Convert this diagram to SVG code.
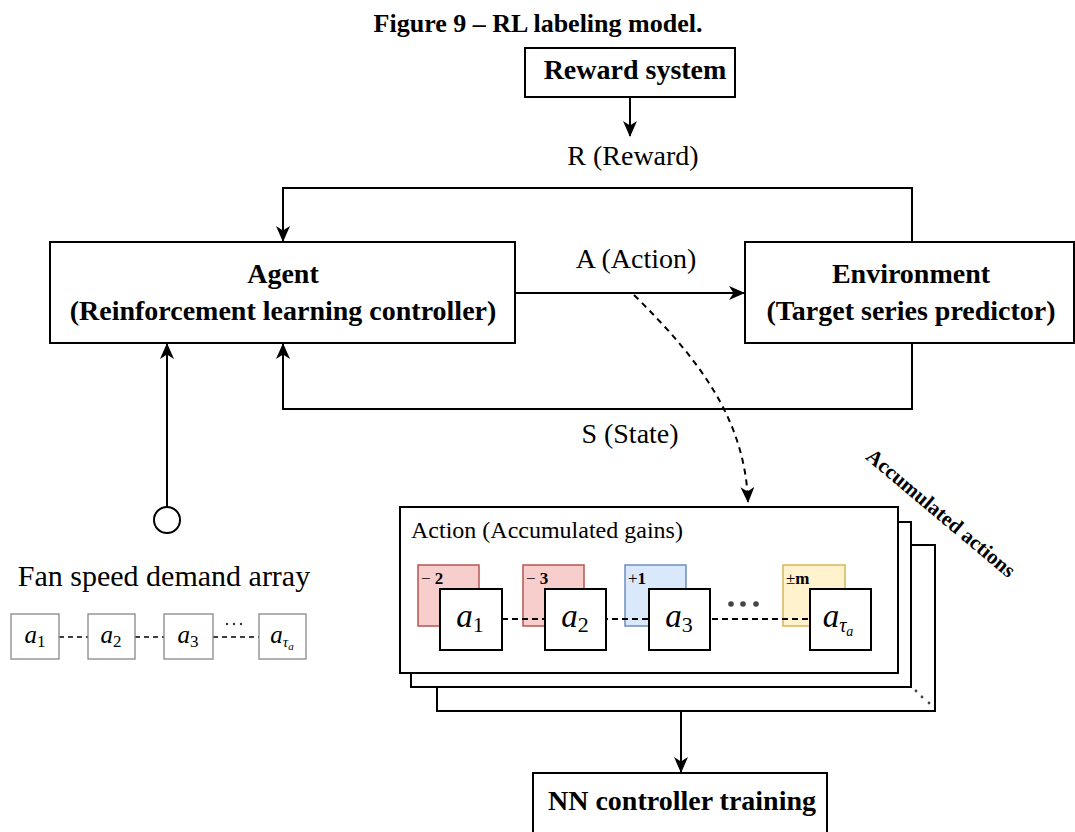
<svg xmlns="http://www.w3.org/2000/svg" width="1075" height="832" viewBox="0 0 1075 832" font-family="'Liberation Serif', 'Times New Roman', serif">
<defs>
<style>
text, tspan{font-family:'Liberation Serif','Times New Roman',serif}
text{fill:#000}
.b{font-weight:bold}
.node{fill:#fff;stroke:#000;stroke-width:2}
.con{fill:none;stroke:#000;stroke-width:2}
.lbl{font-size:28px}
.bl{font-size:28px;font-weight:bold}
.m{font-style:italic}
.sq{fill:#fff;stroke:#000;stroke-width:2}
.ssq{fill:#fff;stroke:#888;stroke-width:1.3}
.red{fill:#f8cecc;stroke:#b85450;stroke-width:1.5}
.blue{fill:#dae8fc;stroke:#6c8ebf;stroke-width:1.5}
.yel{fill:#fff2cc;stroke:#d6b656;stroke-width:1.5}
.dash{fill:none;stroke:#000;stroke-width:1.8;stroke-dasharray:6 4}
</style>
<marker id="arr" viewBox="0 0 16 14" refX="15" refY="7" markerWidth="16" markerHeight="14" markerUnits="userSpaceOnUse" orient="auto">
<path d="M0,0 L16,7 L0,14 L4.5,7 z" fill="#000"/>
</marker>
</defs>
<rect width="1075" height="832" fill="#fff"/>
<text x="538" y="32" text-anchor="middle" class="b" font-size="26">Figure 9 – RL labeling model.</text>

<g id="connectors">
<line class="con" x1="630" y1="97" x2="630" y2="136" marker-end="url(#arr)"/>
<polyline class="con" points="912,242 912,188 283,188 283,241" marker-end="url(#arr)"/>
<line class="con" x1="515" y1="293" x2="744" y2="293" marker-end="url(#arr)"/>
<polyline class="con" points="912,343 912,409 283,409 283,344" marker-end="url(#arr)"/>
<line class="con" x1="167" y1="507" x2="167" y2="344" marker-end="url(#arr)"/>
<path class="con" d="M634 295 C700 360 745 420 748 502" stroke-dasharray="6 5" marker-end="url(#arr)"/>
<line class="con" x1="681" y1="711" x2="681" y2="772" marker-end="url(#arr)"/>
<text x="633" y="165" text-anchor="middle" class="lbl">R (Reward)</text>
<text x="636" y="268" text-anchor="middle" class="lbl">A (Action)</text>
<text x="630" y="443" text-anchor="middle" class="lbl">S (State)</text>
</g>

<g id="reward">
<rect class="node" x="525" y="48" width="210" height="49"/>
<text x="635" y="79" text-anchor="middle" class="bl">Reward system</text>
</g>

<g id="agent">
<rect class="node" x="50" y="242" width="465" height="101"/>
<text x="283" y="283" text-anchor="middle" class="bl">Agent</text>
<text x="283" y="320" text-anchor="middle" class="bl">(Reinforcement learning controller)</text>
</g>

<g id="environment">
<rect class="node" x="745" y="242" width="329" height="101"/>
<text x="911" y="283" text-anchor="middle" class="bl">Environment</text>
<text x="911" y="320" text-anchor="middle" class="bl">(Target series predictor)</text>
</g>

<g id="fan-input">
<circle cx="167" cy="520" r="13" fill="#fff" stroke="#000" stroke-width="2"/>
<text x="164" y="586" text-anchor="middle" font-size="30">Fan speed demand array</text>
<g stroke="#000" stroke-width="1.3" stroke-dasharray="5 4">
<line x1="59" y1="637" x2="88" y2="637"/>
<line x1="135" y1="637" x2="164" y2="637"/>
<line x1="213" y1="637" x2="259" y2="637"/>
</g>
<g fill="#333"><circle cx="227" cy="624" r="1.2"/><circle cx="234" cy="624" r="1.2"/><circle cx="241" cy="624" r="1.2"/></g>
<rect class="ssq" x="11" y="614" width="48" height="45"/>
<rect class="ssq" x="88" y="614" width="47" height="45"/>
<rect class="ssq" x="164" y="614" width="49" height="45"/>
<rect class="ssq" x="259" y="614" width="47" height="45"/>
<text x="35" y="643" text-anchor="middle" font-size="25"><tspan class="m">a</tspan><tspan font-size="17" dy="4">1</tspan></text>
<text x="111" y="643" text-anchor="middle" font-size="25"><tspan class="m">a</tspan><tspan font-size="17" dy="4">2</tspan></text>
<text x="188" y="643" text-anchor="middle" font-size="25"><tspan class="m">a</tspan><tspan font-size="17" dy="4">3</tspan></text>
<text x="282" y="643" text-anchor="middle" font-size="25"><tspan class="m">a</tspan><tspan font-size="15" dy="4" class="m">τ</tspan><tspan font-size="11" dy="3" class="m">a</tspan></text>
</g>

<g id="accumulated-actions">
<rect class="node" x="437" y="545" width="498" height="166"/>
<rect class="node" x="411" y="522" width="500" height="165"/>
<rect class="node" x="400" y="507" width="498" height="166"/>
<g fill="#444"><circle cx="916" cy="691" r="1.4"/><circle cx="922" cy="697" r="1.4"/><circle cx="929" cy="703" r="1.4"/></g>
<text x="411" y="538" font-size="24">Action (Accumulated gains)</text>
<rect class="red" x="418" y="565" width="61" height="61"/>
<rect class="red" x="523" y="565" width="61" height="61"/>
<rect class="blue" x="625" y="565" width="61" height="61"/>
<rect class="yel" x="783" y="565" width="62" height="61"/>
<text x="421" y="584" font-size="17">− <tspan class="b">2</tspan></text>
<text x="526" y="584" font-size="17">− <tspan class="b">3</tspan></text>
<text x="628" y="584" font-size="17">+<tspan class="b">1</tspan></text>
<text x="786" y="584" font-size="17">±<tspan class="b">m</tspan></text>
<line class="dash" x1="502" y1="619" x2="810" y2="619"/>
<g fill="#444"><circle cx="731" cy="604" r="2.8"/><circle cx="743" cy="604" r="2.8"/><circle cx="756" cy="604" r="2.8"/></g>
<rect class="sq" x="440" y="589" width="62" height="61"/>
<rect class="sq" x="545" y="589" width="61" height="61"/>
<rect class="sq" x="649" y="589" width="61" height="61"/>
<rect class="sq" x="810" y="589" width="61" height="61"/>
<text x="470" y="627" text-anchor="middle" font-size="33"><tspan class="m">a</tspan><tspan font-size="22" dy="5">1</tspan></text>
<text x="575" y="627" text-anchor="middle" font-size="33"><tspan class="m">a</tspan><tspan font-size="22" dy="5">2</tspan></text>
<text x="679" y="627" text-anchor="middle" font-size="33"><tspan class="m">a</tspan><tspan font-size="22" dy="5">3</tspan></text>
<text x="838" y="627" text-anchor="middle" font-size="33"><tspan class="m">a</tspan><tspan font-size="20" dy="5" class="m">τ</tspan><tspan font-size="14" dy="4" class="m">a</tspan></text>
<text x="0" y="0" transform="translate(941,513) rotate(40)" text-anchor="middle" dy="7" class="b" font-size="21">Accumulated actions</text>
</g>

<g id="nn-training">
<rect class="node" x="533" y="773" width="294" height="70"/>
<text x="682" y="810" text-anchor="middle" class="bl">NN controller training</text>
</g>
</svg>
